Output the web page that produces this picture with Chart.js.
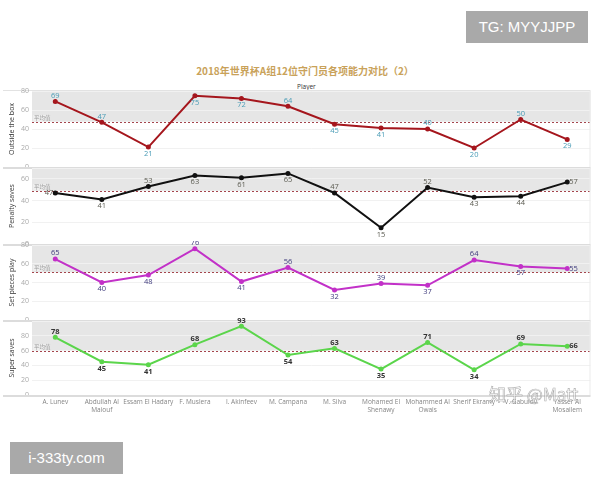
<!DOCTYPE html>
<html>
<head>
<meta charset="utf-8">
<script src="https://cdn.jsdelivr.net/npm/chart.js@4"></script>
<style>
  body { margin:0; background:#fff; width:600px; height:480px; position:relative; overflow:hidden; font-family:"Open Sans", sans-serif; }
  .title { position:absolute; top:63px; left:0; width:610px; text-align:center; color:#c9a25a; font:bold 10px "Noto Sans CJK SC", sans-serif; }
  .player { position:absolute; top:82px; left:297px; font-size:6.5px; color:#333; }
  .pane { position:absolute; left:3px; width:591px; }
  .wm { position:absolute; background:#a9a9a9; color:#fff; font:15px "Liberation Sans", sans-serif; text-align:center; }
  .zh { position:absolute; left:489px; top:381px; font:17px "Noto Sans CJK SC", sans-serif; color:rgba(255,255,255,0.6);
        -webkit-text-stroke:0.6px rgba(120,120,120,0.6); white-space:nowrap; }
</style>
</head>
<body>
<div class="title">2018年世界杯A组12位守门员各项能力对比（2）</div>
<div class="player">Player</div>
<div class="pane" id="p1"><canvas id="c1"></canvas></div>
<div class="pane" id="p2"><canvas id="c2"></canvas></div>
<div class="pane" id="p3"><canvas id="c3"></canvas></div>
<div class="pane" id="p4"><canvas id="c4"></canvas></div>
<div class="wm" style="left:466px;top:11px;width:122px;height:32px;line-height:32px;">TG: MYYJJPP</div>
<div class="wm" style="left:10px;top:442px;width:113px;height:32px;line-height:32px;">i-333ty.com</div>
<div class="zh">知乎 @Matt</div>
<script>
// données
const players = [["A. Lunev"], ["Abdullah Al", "Maiouf"], ["Essam El Hadary"], ["F. Muslera"], ["I. Akinfeev"],
  ["M. Campana"], ["M. Silva"], ["Mohamed El", "Shenawy"], ["Mohammed Al", "Owais"], ["Sherif Ekramy"],
  ["V. Gabulov"], ["Yasser Al", "Mosailem"]];
const outsideBox   = [69, 47, 21, 75, 72, 64, 45, 41, 40, 20, 50, 29];
const penaltySaves = [47, 41, 53, 63, 61, 65, 47, 15, 52, 43, 44, 57];
const setPieces    = [65, 40, 48, 76, 41, 56, 32, 39, 37, 64, 57, 55];
const superSaves   = [78, 45, 41, 68, 93, 54, 63, 35, 71, 34, 69, 66];
const yTickStep = 20;
const avgLabel = "平均值";

const panes = [
  {id:'c1', box:'p1', name:'Outside the box', data:outsideBox, max:80, top:91, bottom:167,
   line:'#a5161d', txt:'#4a9cb6', bold:false, pos:['u','u','d','d','d','u','d','d','u','d','u','d']},
  {id:'c2', box:'p2', name:'Penalty saves', data:penaltySaves, max:70, top:168, bottom:244,
   line:'#111111', txt:'#5a5a50', bold:false, pos:['l','d','u','d','d','d','u','d','u','d','d','r']},
  {id:'c3', box:'p3', name:'Set pieces play', data:setPieces, max:80, top:245, bottom:320,
   line:'#c231c8', txt:'#3e3a7c', bold:false, pos:['u','d','d','u','d','u','d','u','d','u','d','r']},
  {id:'c4', box:'p4', name:'Super saves', data:superSaves, max:100, top:321, bottom:395,
   line:'#5bd54b', txt:'#333333', bold:true, pos:['u','d','d','u','u','d','u','d','u','d','u','r']}
];

const padT = 4, padB = 4, xAxisH = 24;

// bande grise + ligne moyenne + étiquettes
const paneDeco = {
  id: 'paneDeco',
  beforeDraw(chart, args, opts) {
    const ctx = chart.ctx, a = chart.chartArea, y = chart.scales.y;
    const vals = chart.data.datasets[0].data;
    const avg = vals.reduce((s, v) => s + v, 0) / vals.length;
    const yAvg = y.getPixelForValue(avg);
    ctx.save();
    ctx.fillStyle = '#e6e6e6';
    ctx.fillRect(a.left, a.top, a.right - a.left, yAvg - a.top);
    if (opts.first) {
      ctx.fillStyle = '#e2e2e2';
      ctx.fillRect(0, a.top - 1, a.right, 1);
    }
    ctx.restore();
  },
  beforeDatasetsDraw(chart) {
    const ctx = chart.ctx, a = chart.chartArea, y = chart.scales.y;
    const vals = chart.data.datasets[0].data;
    const avg = vals.reduce((s, v) => s + v, 0) / vals.length;
    const yAvg = Math.round(y.getPixelForValue(avg)) + 0.5;
    ctx.save();
    ctx.strokeStyle = '#a5454d';
    ctx.lineWidth = 1;
    ctx.setLineDash([2, 2]);
    ctx.beginPath();
    ctx.moveTo(a.left, yAvg);
    ctx.lineTo(a.right, yAvg);
    ctx.stroke();
    ctx.setLineDash([]);
    ctx.fillStyle = '#efefef';
    ctx.fillRect(a.left + 1, yAvg - 7.5, 17, 6);
    ctx.fillStyle = '#9a9a9a';
    ctx.font = '5.5px "Noto Sans CJK SC"';
    ctx.textBaseline = 'middle';
    ctx.textAlign = 'left';
    ctx.fillText(avgLabel, a.left + 2, yAvg - 4.5);
    ctx.restore();
  },
  afterDatasetsDraw(chart, args, opts) {
    const ctx = chart.ctx, a = chart.chartArea;
    const meta = chart.getDatasetMeta(0);
    const ds = chart.data.datasets[0];
    ctx.save();
    ctx.font = (opts.bold ? 'bold ' : '') + '7.5px "Open Sans"';
    ctx.fillStyle = opts.txt;
    meta.data.forEach((pt, i) => {
      const p = opts.pos[i];
      let x = pt.x, yy = pt.y;
      ctx.textAlign = 'center';
      if (p === 'u') { ctx.textBaseline = 'bottom'; yy -= 2; }
      else if (p === 'd') { ctx.textBaseline = 'top'; yy += 3; }
      else if (p === 'l') { ctx.textBaseline = 'middle'; ctx.textAlign = 'right'; x -= 2; }
      else { ctx.textBaseline = 'middle'; ctx.textAlign = 'left'; x += 2; }
      ctx.fillText(ds.data[i], x, yy);
    });
    // bordure du bas
    ctx.fillStyle = '#dcdcdc';
    ctx.fillRect(0, a.bottom, a.right, 2);
    ctx.fillStyle = '#ececec';
    ctx.fillRect(a.right - 1, a.top, 1, a.bottom - a.top);
    ctx.restore();
  }
};

panes.forEach((p, k) => {
  const last = k === panes.length - 1;
  const box = document.getElementById(p.box);
  const h = (p.bottom - p.top) + padT + (last ? xAxisH : padB);
  box.style.top = (p.top - padT) + 'px';
  box.style.height = h + 'px';

  new Chart(document.getElementById(p.id), {
    type: 'line',
    data: {
      labels: players,
      datasets: [{
        data: p.data,
        borderColor: p.line,
        backgroundColor: p.line,
        borderWidth: 2,
        pointRadius: 1.5,
        pointHoverRadius: 1.5,
        tension: 0
      }]
    },
    options: {
      responsive: true,
      maintainAspectRatio: false,
      animation: false,
      events: [],
      layout: { padding: { top: padT, bottom: last ? 0 : padB, left: 0, right: 0 } },
      plugins: {
        legend: { display: false },
        tooltip: { enabled: false },
        paneDeco: { first: k === 0, txt: p.txt, bold: p.bold, pos: p.pos }
      },
      scales: {
        x: {
          display: last,
          offset: true,
          grid: { display: false, drawTicks: false },
          border: { display: false },
          ticks: { autoSkip: false, maxRotation: 0, padding: 3, color: '#858585',
                   font: { size: 6.5, family: 'Open Sans', lineHeight: 1.2 } },
          afterFit: (s) => { if (last) { s.height = xAxisH; s.paddingLeft = 0; s.paddingRight = 0; } }
        },
        y: {
          min: 0,
          max: p.max,
          grid: { color: '#f1f1f1', drawTicks: false },
          border: { display: false },
          ticks: {
            stepSize: yTickStep, padding: 3, color: '#aaaaaa',
            font: { size: 7, family: 'Open Sans' },
            callback: (v) => (v > 80 || v % yTickStep) ? '' : v
          },
          title: { display: true, text: p.name, color: '#333', padding: { top: 5, bottom: 0 },
                   font: { size: 7, family: 'Open Sans' } },
          afterFit: (s) => { s.width = 29; s.paddingTop = 0; s.paddingBottom = 0; }
        }
      }
    },
    plugins: [paneDeco]
  });
});
</script>
</body>
</html>
